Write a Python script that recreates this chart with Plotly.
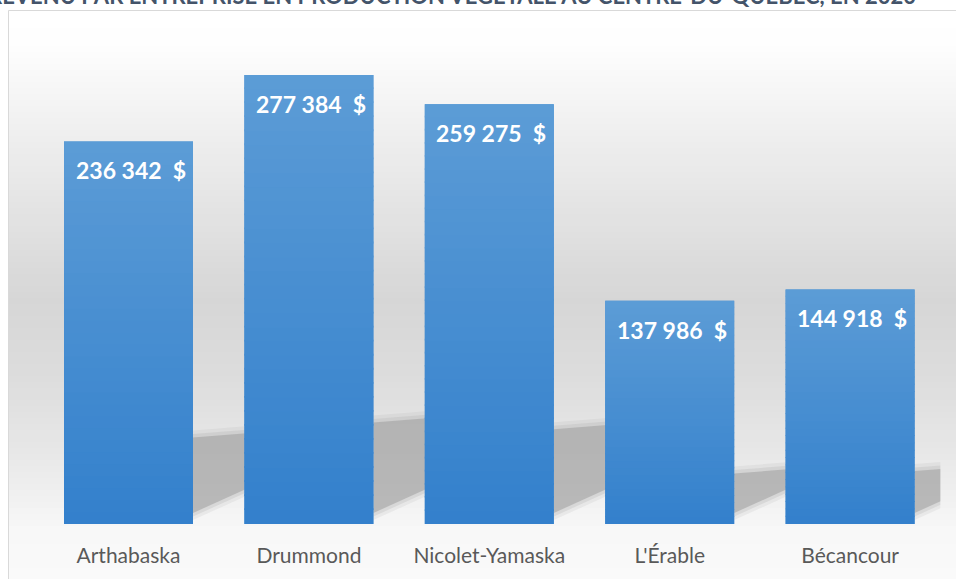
import plotly.graph_objects as go

# ---- data ----
regions = ["Arthabaska", "Drummond", "Nicolet-Yamaska", "L'Érable", "Bécancour"]
revenus = [236342, 277384, 259275, 137986, 144918]
title_text = "REVENU PAR ENTREPRISE EN PRODUCTION VÉGÉTALE AU CENTRE-DU-QUÉBEC, EN 2020"

W, H = 956, 579
X0, X1 = 38.3, 940.3      # plot area px (left/right)
YB, YT = 524.0, 38.4      # plot area px (bottom/top)
YMAX = 300000
BAR_W = 0.715
TOP_RGB = (92, 156, 214)
BOT_RGB = (51, 128, 204)


def fmt(v):
    return f"{v:,}".replace(",", " ") + "\u00a0 $"


def py(px):  # pixel y -> paper y
    return 1 - px / H


def pxx(px):
    return px / W


k = (YB - YT) / YMAX  # px per data unit

shapes = []
# background gradient of the chart frame
stops = [(10, 255), (45, 254), (140, 238), (300, 214), (380, 221), (450, 231),
         (500, 241), (530, 248), (579, 250)]


def gray_at(y):
    for (y0, g0), (y1, g1) in zip(stops[:-1], stops[1:]):
        if y0 <= y <= y1:
            t = (y - y0) / (y1 - y0)
            return g0 + (g1 - g0) * t
    return stops[-1][1]


step = 6
y = 10
while y < H:
    g = int(round(gray_at(y + step / 2)))
    shapes.append(dict(type="rect", xref="paper", yref="paper",
                       x0=pxx(8), x1=1.01, y0=py(min(y + step + 0.6, H + 2)), y1=py(y),
                       fillcolor=f"rgb({g},{g},{g})", line=dict(width=0), layer="below"))
    y += step
# frame border
shapes.append(dict(type="rect", xref="paper", yref="paper",
                   x0=pxx(8.5), x1=1.02, y0=-0.02, y1=py(10.5),
                   fillcolor="rgba(0,0,0,0)", line=dict(color="#d9d9d9", width=1), layer="below"))

# perspective shadows behind bars (soft edges via layered polygons)
unit_x = (X1 - X0) / len(regions)
for i, v in enumerate(revenus):
    xr = i + BAR_W / 2
    dx = 75 / unit_x
    for grow, col in [(7, "rgba(170,170,170,0.15)"), (3.5, "rgba(165,165,165,0.22)"),
                      (0, "rgba(155,155,155,0.52)")]:
        g = grow / k
        path = (f"M {xr},{11 / k - g} L {xr},{0.226 * v + g} "
                f"L {xr + dx},{0.226 * v + 6 / k + g} L {xr + dx},{(11 + 34) / k - g} Z")
        shapes.append(dict(type="path", xref="x", yref="y", path=path,
                           fillcolor=col, line=dict(width=0), layer="below"))

# vertical gradient fill painted over each bar (light at top, darker at bottom)
NSTRIP = 32
for i, v in enumerate(revenus):
    for j in range(NSTRIP):
        t = (j + 0.5) / NSTRIP  # 0 bottom -> 1 top
        c = tuple(int(round(BOT_RGB[n] + (TOP_RGB[n] - BOT_RGB[n]) * t)) for n in range(3))
        shapes.append(dict(type="rect", xref="x", yref="y",
                           x0=i - BAR_W / 2, x1=i + BAR_W / 2,
                           y0=v * j / NSTRIP, y1=min(v, v * (j + 1) / NSTRIP + v * 0.004),
                           fillcolor=f"rgb{c}", line=dict(width=0), layer="above"))

fig = go.Figure()
fig.add_trace(go.Bar(
    x=list(range(len(regions))), y=revenus, width=BAR_W,
    marker=dict(color="#468DD0", line=dict(width=0)),
    hoverinfo="skip",
))

annotations = []
for i, v in enumerate(revenus):
    annotations.append(dict(x=i, y=v, xref="x", yref="y", text=fmt(v), showarrow=False,
                            yanchor="top", yshift=-13, xshift=2,
                            font=dict(family="Lato", size=23, color="white", weight="bold")))
annotations.append(dict(x=pxx(452), y=py(11), xref="paper", yref="paper", text=title_text,
                        showarrow=False, xanchor="center", yanchor="bottom",
                        font=dict(family="Lato", size=22, color="#44546A", weight="bold")))

fig.update_layout(
    width=W, height=H,
    margin=dict(l=0, r=0, t=0, b=0),
    paper_bgcolor="white", plot_bgcolor="rgba(0,0,0,0)",
    showlegend=False,
    shapes=shapes, annotations=annotations,
    xaxis=dict(domain=[pxx(X0), pxx(X1)], range=[-0.5, len(regions) - 0.5],
               tickmode="array", tickvals=list(range(len(regions))), ticktext=regions,
               showgrid=False, zeroline=False, showline=False, ticks="",
               ticklabelstandoff=17,
               tickfont=dict(family="Lato", size=21, color="#595959")),
    yaxis=dict(domain=[py(YB), py(YT)], range=[0, YMAX], visible=False),
)

fig.write_html("out.html", config={"displayModeBar": False},
               post_script="document.body.style.margin='0px';document.body.style.overflow='hidden';")
